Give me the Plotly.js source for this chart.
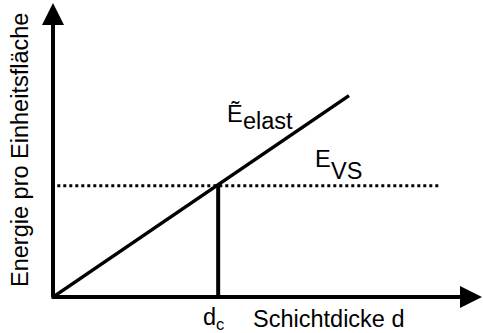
<!DOCTYPE html>
<html>
<head>
<meta charset="utf-8">
<script src="https://cdn.plot.ly/plotly-3.0.1.min.js"></script>
<style>html,body{margin:0;padding:0;background:#fff;}#chart{width:483px;height:333px;}</style>
</head>
<body>
<div id="chart"></div>
<script>
// Schematic data (arbitrary units)
const elastD = [0, 6.9];
const elastE = [0, 6.85];
const vsD = [0.1, 9.04];
const vsE = [3.78, 3.78];
const dcD = [3.85, 3.85];
const dcE = [0, 3.78];
const axisMaxD = 10;
const axisMaxE = 10;

const FONT = '"Liberation Sans", Arial, sans-serif';
const FS = 23.5;

const traces = [
  {x: elastD, y: elastE, mode: 'lines', line: {color: '#000', width: 3.5}, hoverinfo: 'skip', cliponaxis: false},
  {x: vsD, y: vsE, mode: 'lines', line: {color: '#000', width: 3, dash: 'dot'}, hoverinfo: 'skip', cliponaxis: false},
  {x: dcD, y: dcE, mode: 'lines', line: {color: '#000', width: 4}, hoverinfo: 'skip', cliponaxis: false}
];

function txt(text, x, y, opts) {
  return Object.assign({text: text, x: x, y: y, xref: 'x', yref: 'y', showarrow: false,
    borderpad: 0, borderwidth: 0,
    xanchor: 'left', yanchor: 'middle', font: {family: FONT, size: FS, color: '#000'}}, opts || {});
}

const annotations = [
  // axes with arrowheads
  {x: axisMaxD, y: 0, ax: -0.07, ay: 0, xref: 'x', yref: 'y', axref: 'x', ayref: 'y', text: '',
   showarrow: true, arrowhead: 2, arrowsize: 1.1, arrowwidth: 4, arrowcolor: '#000', standoff: 0},
  {x: 0, y: axisMaxE, ax: 0, ay: -0.05, xref: 'x', yref: 'y', axref: 'x', ayref: 'y', text: '',
   showarrow: true, arrowhead: 2, arrowsize: 1.1, arrowwidth: 4, arrowcolor: '#000', standoff: 0},
  txt('Ẽ', 4.056, 6.21),
  txt('elast', 4.43, 5.97),
  txt('E', 6.107, 4.68),
  txt('VS', 6.48, 4.27),
  txt('d<sub>c</sub>', 0.3497, -0.073, {xref: 'paper', yref: 'paper'}),
  txt('Schichtdicke d', 0.466, -0.076, {xref: 'paper', yref: 'paper'}),
  txt('Energie pro Einheitsfläche', -0.077, 0.5, {xref: 'paper', yref: 'paper', xanchor: 'center', textangle: -90})
];

const layout = {
  width: 483, height: 333,
  margin: {l: 53, r: 1, t: 3, b: 36},
  paper_bgcolor: '#fff', plot_bgcolor: '#fff',
  showlegend: false,
  xaxis: {range: [0, 10], visible: false, fixedrange: true},
  yaxis: {range: [0, 10], visible: false, fixedrange: true},
  annotations: annotations
};

Plotly.newPlot('chart', traces, layout, {displayModeBar: false, staticPlot: true});
</script>
</body>
</html>
